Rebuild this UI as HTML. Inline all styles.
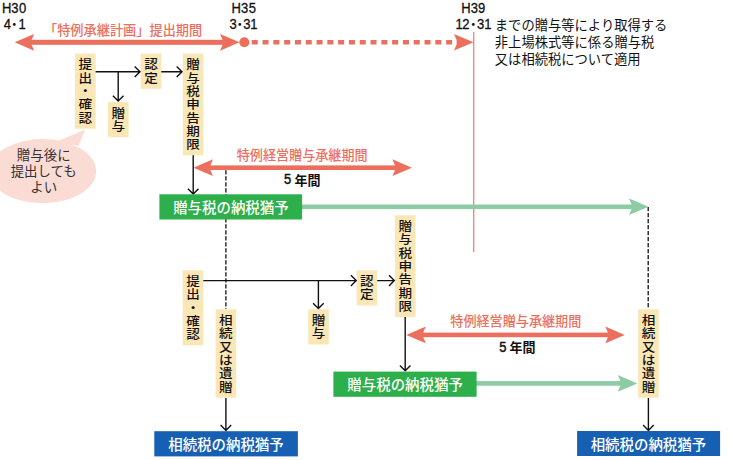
<!DOCTYPE html><html lang="ja"><head><meta charset="utf-8"><title>特例承継計画</title>
<style>html,body{margin:0;padding:0;background:#fff}svg{display:block}text{font-family:"Liberation Sans", "Noto Sans CJK JP", sans-serif}</style></head><body>
<svg width="730" height="460" viewBox="0 0 730 460">
<rect width="730" height="460" fill="#fff"/>
<rect x="473.2" y="32" width="1.1" height="220" fill="#EC6F5E"/>
<text transform="scale(0.93,1)" x="2.19 12.16 20.31" y="13.3" font-size="14.0" fill="#111" stroke="#111" stroke-width="0.3">H30</text>
<text transform="scale(0.93,1)" x="4.10 20.01" y="28.9" font-size="14.0" fill="#111" stroke="#111" stroke-width="0.3">41</text>
<text x="14.2" y="28.74" font-size="13" text-anchor="middle" fill="#111">・</text>
<text transform="scale(0.93,1)" x="248.96 259.04 267.40" y="13.3" font-size="14.0" fill="#111" stroke="#111" stroke-width="0.3">H35</text>
<text transform="scale(0.93,1)" x="246.78 261.51 269.04" y="28.9" font-size="14.0" fill="#111" stroke="#111" stroke-width="0.3">331</text>
<text x="239.8" y="28.74" font-size="13" text-anchor="middle" fill="#111">・</text>
<text transform="scale(0.93,1)" x="496.06 506.13 513.98" y="13.3" font-size="14.0" fill="#111" stroke="#111" stroke-width="0.3">H39</text>
<text transform="scale(0.93,1)" x="489.90 497.15 513.02 520.76" y="28.9" font-size="14.0" fill="#111" stroke="#111" stroke-width="0.3">1231</text>
<text x="473.3" y="28.74" font-size="13" text-anchor="middle" fill="#111">・</text>
<text x="494.8" y="29.6" font-size="13.3" font-weight="400" fill="#111" text-anchor="start">までの贈与等により取得する</text>
<text x="494.8" y="46.7" font-size="13.3" font-weight="400" fill="#111" text-anchor="start">非上場株式等に係る贈与税</text>
<text x="494.8" y="63.5" font-size="13.3" font-weight="400" fill="#111" text-anchor="start">又は相続税について適用</text>
<rect x="30.2" y="39.8" width="193.8" height="5.0" fill="#EC6F5E"/>
<path d="M14.7 42.3 L34.2 33.9 L31.6 39.8 L31.6 44.8 L34.2 50.7 ZM239.5 42.3 L220.0 33.9 L222.6 39.8 L222.6 44.8 L220.0 50.7 Z" fill="#EC6F5E"/>
<circle cx="244.3" cy="42.3" r="5.05" fill="#EC6F5E"/>
<path d="M251.75 42.2 H452.3" stroke="#EC6F5E" stroke-width="4.6" stroke-dasharray="6 4.8" fill="none"/>
<path d="M473.6 42.3 L454.0 34.1 L456.6 40.0 L456.6 44.6 L454.0 50.5 Z" fill="#EC6F5E"/>
<text x="44" y="35.0" font-size="13.2" font-weight="500" fill="#EC6F5E" text-anchor="start">「特例承継計画」提出期間</text>
<rect x="75.0" y="53.6" width="20.6" height="75.1" fill="#FBE7B6"/>
<text transform="translate(85.3 64.75) scale(1.045 0.95)" x="0" y="4.94" font-size="13" font-weight="500" text-anchor="middle" fill="#111">提</text>
<text transform="translate(85.3 78.05) scale(1.045 0.95)" x="0" y="4.94" font-size="13" font-weight="500" text-anchor="middle" fill="#111">出</text>
<text transform="translate(85.3 91.35) scale(1.045 0.95)" x="0" y="4.94" font-size="13" font-weight="500" text-anchor="middle" fill="#111">・</text>
<text transform="translate(85.3 104.65) scale(1.045 0.95)" x="0" y="4.94" font-size="13" font-weight="500" text-anchor="middle" fill="#111">確</text>
<text transform="translate(85.3 117.95) scale(1.045 0.95)" x="0" y="4.94" font-size="13" font-weight="500" text-anchor="middle" fill="#111">認</text>
<rect x="140.7" y="53.6" width="20.6" height="35.2" fill="#FBE7B6"/>
<text transform="translate(151.0 64.75) scale(1.045 0.95)" x="0" y="4.94" font-size="13" font-weight="500" text-anchor="middle" fill="#111">認</text>
<text transform="translate(151.0 78.05) scale(1.045 0.95)" x="0" y="4.94" font-size="13" font-weight="500" text-anchor="middle" fill="#111">定</text>
<rect x="108.0" y="102.0" width="20.6" height="35.2" fill="#FBE7B6"/>
<text transform="translate(118.3 113.15) scale(1.045 0.95)" x="0" y="4.94" font-size="13" font-weight="500" text-anchor="middle" fill="#111">贈</text>
<text transform="translate(118.3 126.45) scale(1.045 0.95)" x="0" y="4.94" font-size="13" font-weight="500" text-anchor="middle" fill="#111">与</text>
<rect x="182.8" y="53.6" width="20.6" height="101.7" fill="#FBE7B6"/>
<text transform="translate(193.1 64.75) scale(1.045 0.95)" x="0" y="4.94" font-size="13" font-weight="500" text-anchor="middle" fill="#111">贈</text>
<text transform="translate(193.1 78.05) scale(1.045 0.95)" x="0" y="4.94" font-size="13" font-weight="500" text-anchor="middle" fill="#111">与</text>
<text transform="translate(193.1 91.35) scale(1.045 0.95)" x="0" y="4.94" font-size="13" font-weight="500" text-anchor="middle" fill="#111">税</text>
<text transform="translate(193.1 104.65) scale(1.045 0.95)" x="0" y="4.94" font-size="13" font-weight="500" text-anchor="middle" fill="#111">申</text>
<text transform="translate(193.1 117.95) scale(1.045 0.95)" x="0" y="4.94" font-size="13" font-weight="500" text-anchor="middle" fill="#111">告</text>
<text transform="translate(193.1 131.25) scale(1.045 0.95)" x="0" y="4.94" font-size="13" font-weight="500" text-anchor="middle" fill="#111">期</text>
<text transform="translate(193.1 144.55) scale(1.045 0.95)" x="0" y="4.94" font-size="13" font-weight="500" text-anchor="middle" fill="#111">限</text>
<path d="M95.6 71.8 H140.0 M134.7 66.5 L140.0 71.8 L134.7 77.1" fill="none" stroke="#111" stroke-width="1.4"/>
<path d="M118.2 71.8 V101.0 M112.9 95.7 L118.2 101.0 L123.5 95.7" fill="none" stroke="#111" stroke-width="1.4"/>
<path d="M161.3 71.8 H182.0 M176.7 66.5 L182.0 71.8 L176.7 77.1" fill="none" stroke="#111" stroke-width="1.4"/>
<path d="M193.2 155.2 V194.0 M187.9 188.7 L193.2 194.0 L198.5 188.7" fill="none" stroke="#111" stroke-width="1.4"/>
<path d="M58 141 L85.2 129.6 L78.5 146 Z" fill="#FBDCD5"/>
<ellipse cx="42.5" cy="171.2" rx="53.7" ry="32.1" fill="#FBDCD5"/>
<text x="43.7" y="159.6" font-size="13.45" font-weight="400" fill="#333" text-anchor="middle">贈与後に</text>
<text x="43.7" y="175.9" font-size="13.45" font-weight="400" fill="#333" text-anchor="middle">提出しても</text>
<text x="43.7" y="192.2" font-size="13.45" font-weight="400" fill="#333" text-anchor="middle">よい</text>
<rect x="209.0" y="165.4" width="187.4" height="4.6" fill="#EC6F5E"/>
<path d="M193.5 167.7 L213.0 159.3 L210.4 165.4 L210.4 170.0 L213.0 176.1 ZM411.9 167.7 L392.4 159.3 L395.0 165.4 L395.0 170.0 L392.4 176.1 Z" fill="#EC6F5E"/>
<text x="302.2" y="159.9" font-size="13.1" font-weight="500" fill="#EC6F5E" text-anchor="middle">特例経営贈与承継期間</text>
<text transform="scale(0.9,1)" x="315.48" y="184.1" font-size="14.4" fill="#111" stroke="#111" stroke-width="0.45">5</text>
<text x="294.4" y="184.5" font-size="13" font-weight="700" fill="#111" text-anchor="start">年間</text>
<path d="M225.9 170.3 V309" stroke="#111" stroke-width="1.3" stroke-dasharray="4.3 1.7" fill="none"/>
<path d="M648.2 207 V309" stroke="#111" stroke-width="1.3" stroke-dasharray="4.3 1.7" fill="none"/>
<rect x="300.0" y="204.5" width="333.0" height="4.6" fill="#8CCBA3"/>
<path d="M648.5 206.8 L629.0 198.5 L631.6 204.5 L631.6 209.1 L629.0 215.1 Z" fill="#8CCBA3"/>
<rect x="159.4" y="194.3" width="142.7" height="25.2" fill="#2DAF4B"/>
<text x="230.9" y="212.70000000000002" font-size="14.45" font-weight="500" fill="#fff" text-anchor="middle">贈与税の納税猶予</text>
<rect x="182.7" y="270.3" width="20.6" height="75.1" fill="#FBE7B6"/>
<text transform="translate(193.0 281.45) scale(1.045 0.95)" x="0" y="4.94" font-size="13" font-weight="500" text-anchor="middle" fill="#111">提</text>
<text transform="translate(193.0 294.75) scale(1.045 0.95)" x="0" y="4.94" font-size="13" font-weight="500" text-anchor="middle" fill="#111">出</text>
<text transform="translate(193.0 308.05) scale(1.045 0.95)" x="0" y="4.94" font-size="13" font-weight="500" text-anchor="middle" fill="#111">・</text>
<text transform="translate(193.0 321.35) scale(1.045 0.95)" x="0" y="4.94" font-size="13" font-weight="500" text-anchor="middle" fill="#111">確</text>
<text transform="translate(193.0 334.65) scale(1.045 0.95)" x="0" y="4.94" font-size="13" font-weight="500" text-anchor="middle" fill="#111">認</text>
<rect x="215.6" y="309.3" width="20.6" height="88.4" fill="#FBE7B6"/>
<text transform="translate(225.9 320.45) scale(1.045 0.95)" x="0" y="4.94" font-size="13" font-weight="500" text-anchor="middle" fill="#111">相</text>
<text transform="translate(225.9 333.75) scale(1.045 0.95)" x="0" y="4.94" font-size="13" font-weight="500" text-anchor="middle" fill="#111">続</text>
<text transform="translate(225.9 347.05) scale(1.045 0.95)" x="0" y="4.94" font-size="13" font-weight="500" text-anchor="middle" fill="#111">又</text>
<text transform="translate(225.9 360.35) scale(1.045 0.95)" x="0" y="4.94" font-size="13" font-weight="500" text-anchor="middle" fill="#111">は</text>
<text transform="translate(225.9 373.65) scale(1.045 0.95)" x="0" y="4.94" font-size="13" font-weight="500" text-anchor="middle" fill="#111">遺</text>
<text transform="translate(225.9 386.95) scale(1.045 0.95)" x="0" y="4.94" font-size="13" font-weight="500" text-anchor="middle" fill="#111">贈</text>
<rect x="308.2" y="309.3" width="20.6" height="35.2" fill="#FBE7B6"/>
<text transform="translate(318.5 320.45) scale(1.045 0.95)" x="0" y="4.94" font-size="13" font-weight="500" text-anchor="middle" fill="#111">贈</text>
<text transform="translate(318.5 333.75) scale(1.045 0.95)" x="0" y="4.94" font-size="13" font-weight="500" text-anchor="middle" fill="#111">与</text>
<rect x="356.6" y="270.3" width="20.6" height="35.2" fill="#FBE7B6"/>
<text transform="translate(366.9 281.45) scale(1.045 0.95)" x="0" y="4.94" font-size="13" font-weight="500" text-anchor="middle" fill="#111">認</text>
<text transform="translate(366.9 294.75) scale(1.045 0.95)" x="0" y="4.94" font-size="13" font-weight="500" text-anchor="middle" fill="#111">定</text>
<rect x="394.9" y="215.3" width="20.6" height="101.7" fill="#FBE7B6"/>
<text transform="translate(405.2 226.45) scale(1.045 0.95)" x="0" y="4.94" font-size="13" font-weight="500" text-anchor="middle" fill="#111">贈</text>
<text transform="translate(405.2 239.75) scale(1.045 0.95)" x="0" y="4.94" font-size="13" font-weight="500" text-anchor="middle" fill="#111">与</text>
<text transform="translate(405.2 253.05) scale(1.045 0.95)" x="0" y="4.94" font-size="13" font-weight="500" text-anchor="middle" fill="#111">税</text>
<text transform="translate(405.2 266.35) scale(1.045 0.95)" x="0" y="4.94" font-size="13" font-weight="500" text-anchor="middle" fill="#111">申</text>
<text transform="translate(405.2 279.65) scale(1.045 0.95)" x="0" y="4.94" font-size="13" font-weight="500" text-anchor="middle" fill="#111">告</text>
<text transform="translate(405.2 292.95) scale(1.045 0.95)" x="0" y="4.94" font-size="13" font-weight="500" text-anchor="middle" fill="#111">期</text>
<text transform="translate(405.2 306.25) scale(1.045 0.95)" x="0" y="4.94" font-size="13" font-weight="500" text-anchor="middle" fill="#111">限</text>
<rect x="638.2" y="309.3" width="20.6" height="88.4" fill="#FBE7B6"/>
<text transform="translate(648.5 320.45) scale(1.045 0.95)" x="0" y="4.94" font-size="13" font-weight="500" text-anchor="middle" fill="#111">相</text>
<text transform="translate(648.5 333.75) scale(1.045 0.95)" x="0" y="4.94" font-size="13" font-weight="500" text-anchor="middle" fill="#111">続</text>
<text transform="translate(648.5 347.05) scale(1.045 0.95)" x="0" y="4.94" font-size="13" font-weight="500" text-anchor="middle" fill="#111">又</text>
<text transform="translate(648.5 360.35) scale(1.045 0.95)" x="0" y="4.94" font-size="13" font-weight="500" text-anchor="middle" fill="#111">は</text>
<text transform="translate(648.5 373.65) scale(1.045 0.95)" x="0" y="4.94" font-size="13" font-weight="500" text-anchor="middle" fill="#111">遺</text>
<text transform="translate(648.5 386.95) scale(1.045 0.95)" x="0" y="4.94" font-size="13" font-weight="500" text-anchor="middle" fill="#111">贈</text>
<path d="M203.3 280.6 H356.2 M350.9 275.3 L356.2 280.6 L350.9 285.9" fill="none" stroke="#111" stroke-width="1.4"/>
<path d="M318.4 280.6 V308.6 M313.1 303.3 L318.4 308.6 L323.7 303.3" fill="none" stroke="#111" stroke-width="1.4"/>
<path d="M377.2 280.6 H394.3 M389.0 275.3 L394.3 280.6 L389.0 285.9" fill="none" stroke="#111" stroke-width="1.4"/>
<path d="M405.2 316.9 V370.8 M399.9 365.5 L405.2 370.8 L410.5 365.5" fill="none" stroke="#111" stroke-width="1.4"/>
<path d="M225.9 397.9 V430.4 M220.6 425.1 L225.9 430.4 L231.2 425.1" fill="none" stroke="#111" stroke-width="1.4"/>
<path d="M648.4 397.9 V430.4 M643.1 425.1 L648.4 430.4 L653.7 425.1" fill="none" stroke="#111" stroke-width="1.4"/>
<rect x="421.8" y="332.6" width="187.5" height="4.6" fill="#EC6F5E"/>
<path d="M406.3 334.9 L425.8 326.5 L423.2 332.6 L423.2 337.2 L425.8 343.3 ZM624.8 334.9 L605.3 326.5 L607.9 332.6 L607.9 337.2 L605.3 343.3 Z" fill="#EC6F5E"/>
<text x="515.8" y="326.4" font-size="13.1" font-weight="500" fill="#EC6F5E" text-anchor="middle">特例経営贈与承継期間</text>
<text transform="scale(0.9,1)" x="554.87" y="351.8" font-size="14.4" fill="#111" stroke="#111" stroke-width="0.45">5</text>
<text x="509.5" y="352.1" font-size="13" font-weight="700" fill="#111" text-anchor="start">年間</text>
<rect x="474.0" y="381.1" width="147.8" height="4.6" fill="#8CCBA3"/>
<path d="M637.3 383.4 L617.8 375.1 L620.4 381.1 L620.4 385.7 L617.8 391.7 Z" fill="#8CCBA3"/>
<rect x="333.4" y="371.6" width="143.2" height="25.2" fill="#2DAF4B"/>
<text x="405.1" y="389.59999999999997" font-size="14.45" font-weight="500" fill="#fff" text-anchor="middle">贈与税の納税猶予</text>
<rect x="154.3" y="431.2" width="143.6" height="25.2" fill="#1660B4"/>
<text x="226" y="449.59999999999997" font-size="14.45" font-weight="500" fill="#fff" text-anchor="middle">相続税の納税猶予</text>
<rect x="577.1" y="431" width="143" height="25" fill="#1660B4"/>
<text x="648.4" y="449.59999999999997" font-size="14.45" font-weight="500" fill="#fff" text-anchor="middle">相続税の納税猶予</text>
</svg></body></html>
